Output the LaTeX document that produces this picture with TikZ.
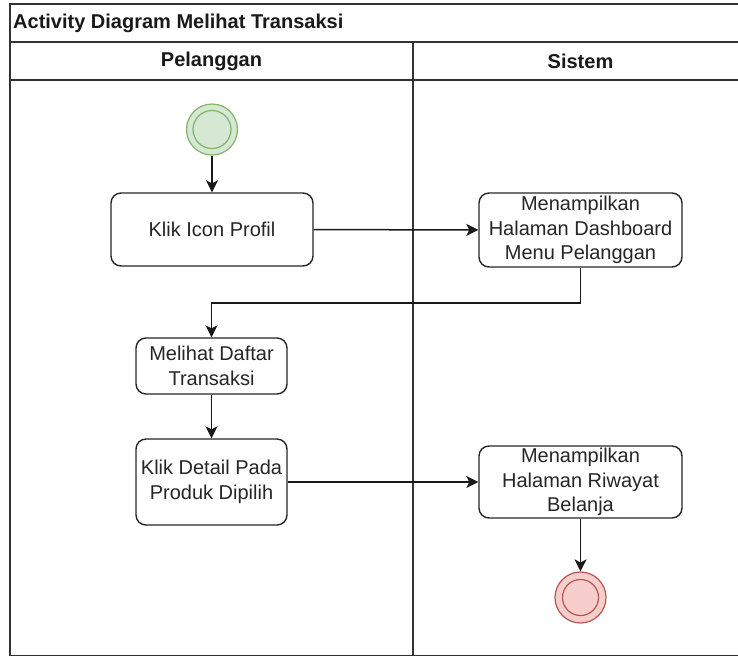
\documentclass[tikz,border=0pt]{standalone}
\usepackage{fontspec}
\setmainfont{Liberation Sans}
\usetikzlibrary{arrows.meta}

\definecolor{mulaiisi}{HTML}{D5E8D4}
\definecolor{mulaigaris}{HTML}{82B366}
\definecolor{akhirisi}{HTML}{F8CECC}
\definecolor{akhirgaris}{HTML}{B85450}

\begin{document}
\begin{tikzpicture}[x=1pt,y=-1pt,
        lane/.style={draw=black!80,line width=1.5pt},
        judul/.style={font=\bfseries\fontsize{20}{24}\selectfont,text=black!90},
        aksi/.style={draw=black!85,line width=1.4pt,rounded corners=10pt,fill=white,
            align=center,inner sep=0pt,text=black!85,font=\fontsize{20}{24.5}\selectfont},
        alur/.style={line width=1.5pt,draw=black!90,-{Stealth[length=12pt,width=12pt,inset=3pt]}},
        awal/.style={circle,draw=mulaigaris,fill=mulaiisi,line width=1.2pt,minimum size=51pt,inner sep=0pt},
        akhir/.style={circle,draw=akhirgaris,fill=akhirisi,line width=1.2pt,minimum size=51pt,inner sep=0pt}]
                \useasboundingbox (0,0) rectangle (738,657);
                % swimlane
                \draw[lane] (745,4) -- (10,4) -- (10,655.5) -- (745,655.5);
                \draw[lane] (10,42) -- (745,42);
                \draw[lane] (10,80) -- (745,80);
                \draw[lane] (413,42) -- (413,655.5);
                \node[judul,anchor=west,inner sep=0pt] at (13,23) (jdl) {Activity Diagram Melihat Transaksi};
                \node[judul] at (211.5,61) (plg) {Pelanggan};
                \node[judul] at (580.5,61) (sis) {Sistem};
                % aktivitas
                \node[awal] at (212,129.5) (mulai) {};
                \draw[mulaigaris,line width=1.2pt] (mulai.center) circle (19pt);
                \node[aksi,minimum width=202pt,minimum height=73pt] at (212,229.5) (profil) {Klik Icon Profil};
                \node[aksi,minimum width=203pt,minimum height=74pt] at (580.5,230) (dash) {Menampilkan\\Halaman Dashboard\\Menu Pelanggan};
                \node[aksi,minimum width=151pt,minimum height=56pt] at (211.5,366) (daftar) {Melihat Daftar\\Transaksi};
                \node[aksi,minimum width=151pt,minimum height=86pt] at (211.5,482) (detail) {Klik Detail Pada\\Produk Dipilih};
                \node[aksi,minimum width=203pt,minimum height=72pt] at (580.5,482) (riwayat) {Menampilkan\\Halaman Riwayat\\Belanja};
                \node[akhir] at (580.5,597.5) (selesai) {};
                \draw[akhirgaris,line width=1.2pt] (selesai.center) circle (18pt);
                % alur
                \draw[alur] (mulai) -- (profil);
                \draw[alur] (profil) -- (dash);
                \draw[alur] (dash.south) -- ++(0,35.5) -| (daftar.north);
                \draw[alur] (daftar) -- (detail);
                \draw[alur] (detail) -- (riwayat);
                \draw[alur] (riwayat) -- (selesai);
            \end{tikzpicture}
\end{document}
